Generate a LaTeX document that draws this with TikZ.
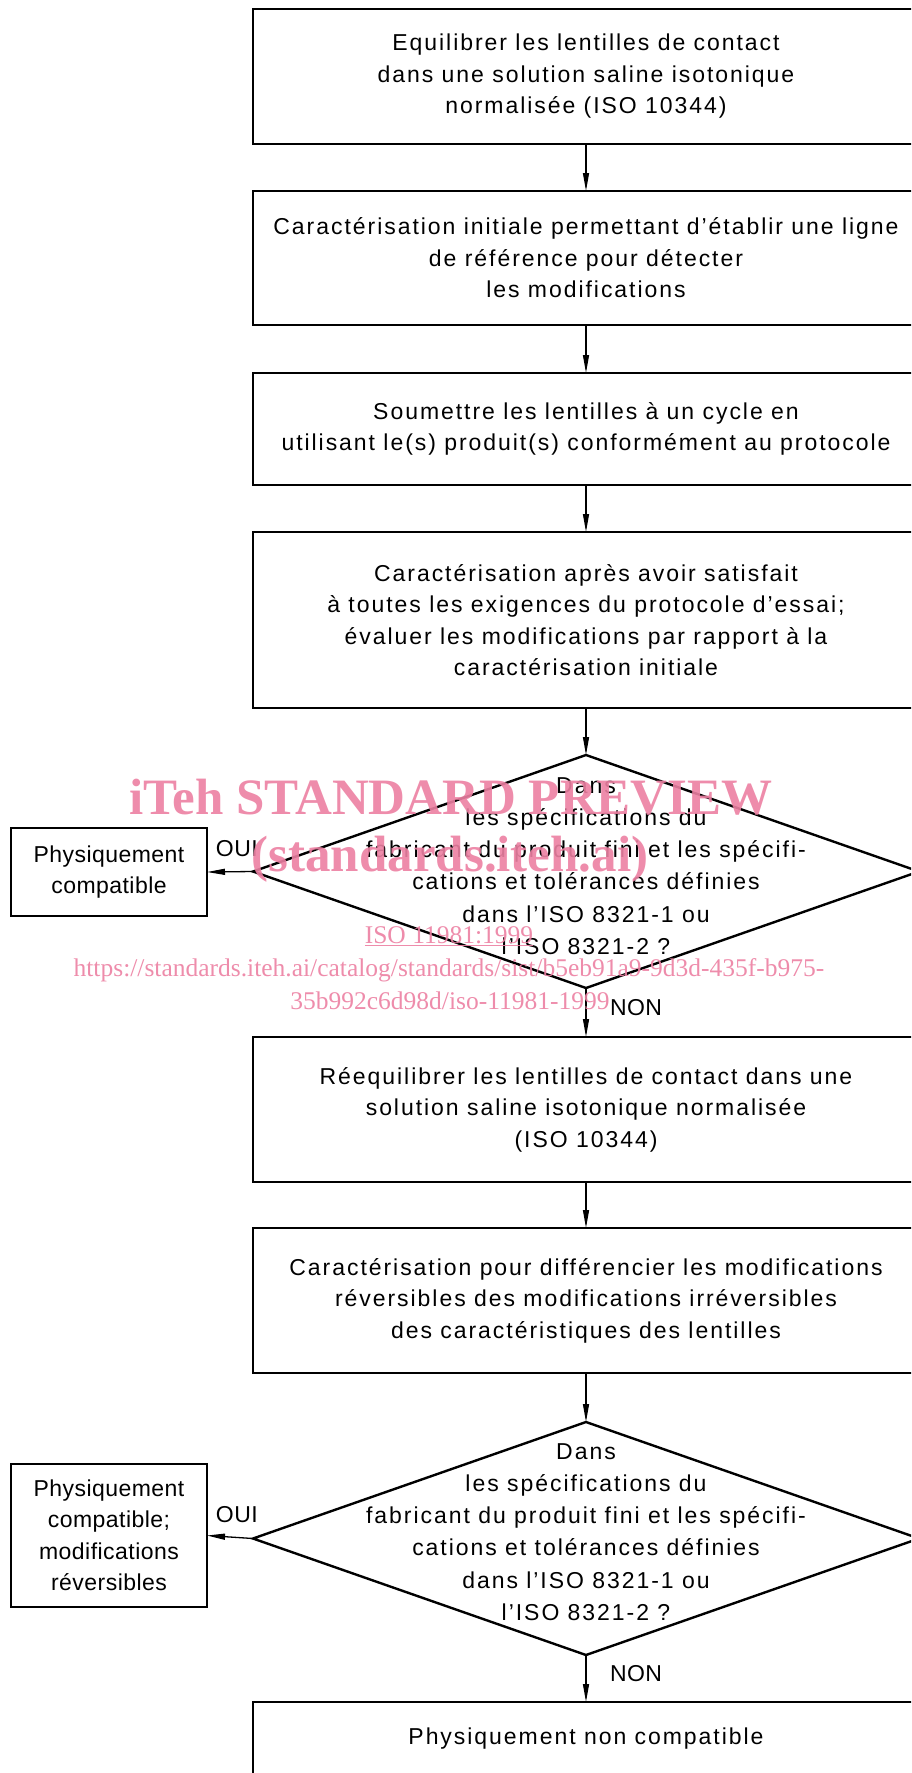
\documentclass[tikz,border=0pt]{standalone}
\usepackage{fontspec}
\setmainfont[LetterSpace=8.5]{Liberation Sans}
\newfontfamily\sidefont[LetterSpace=2]{Liberation Sans}
\newfontfamily\wmfont{Liberation Serif}
\usetikzlibrary{arrows.meta,shapes.geometric,positioning}
\definecolor{wmpink}{RGB}{236,128,162}

\begin{document}
\begin{tikzpicture}[x=1pt, y=-1pt, >={Triangle[length=18pt,width=6pt]},
    every node/.style={font=\fontsize{23}{31.5}\selectfont, inner sep=0pt, outer sep=0pt},
    stepbox/.style={draw, line width=2.4pt, minimum width=666pt, align=center},
    sidebox/.style={draw, line width=2.4pt, minimum width=196pt, align=center, font=\sidefont\fontsize{23}{31.5}\selectfont},
    decision/.style={draw, diamond, line width=2.4pt, minimum width=666pt, minimum height=233pt},
    dectext/.style={align=center, font=\fontsize{23}{32.2}\selectfont},
    answer/.style={font=\sidefont\fontsize{23}{31.5}\selectfont},
    flow/.style={->, line width=1.3pt},
    wm/.style={text=wmpink, text opacity=0.9, font=\wmfont\fontsize{25.5}{31}\selectfont}]

    \useasboundingbox (0,0) rectangle (911,1773);
    \clip (0,0) rectangle (911,1773);

    \node[stepbox, minimum height=135pt] (equil) at (586,76.5) {Equilibrer les lentilles de contact\\dans une solution saline isotonique\\normalisée (ISO 10344)};
    \node[stepbox, minimum height=134pt] (carinit) at (586,258) {Caractérisation initiale permettant d’établir une ligne\\de référence pour détecter\\les modifications};
    \node[stepbox, minimum height=112pt] (cycle) at (586,429) {Soumettre les lentilles à un cycle en\\utilisant le(s) produit(s) conformément au protocole};
    \node[stepbox, minimum height=176pt] (carapres) at (586,620) {Caractérisation après avoir satisfait\\à toutes les exigences du protocole d’essai;\\évaluer les modifications par rapport à la\\caractérisation initiale};

    \node[decision] (dec1) at (586,871.5) {};
    \node[dectext] (dectext1) at (586,866) {Dans\\les spécifications du\\fabricant du produit fini et les spécifi-\\cations et tolérances définies\\dans l’ISO 8321-1 ou\\l’ISO 8321-2 ?};
    \node[sidebox, minimum height=88pt] (compat1) at (109,872) {Physiquement\\compatible};

    \node[stepbox, minimum height=145pt] (reequil) at (586,1109.5) {Réequilibrer les lentilles de contact dans une\\solution saline isotonique normalisée\\(ISO 10344)};
    \node[stepbox, minimum height=145pt] (cardiff) at (586,1300.5) {Caractérisation pour différencier les modifications\\réversibles des modifications irréversibles\\des caractéristiques des lentilles};

    \node[decision] (dec2) at (586,1538.5) {};
    \node[dectext] (dectext2) at (586,1532) {Dans\\les spécifications du\\fabricant du produit fini et les spécifi-\\cations et tolérances définies\\dans l’ISO 8321-1 ou\\l’ISO 8321-2 ?};
    \node[sidebox, minimum height=143pt] (compat2) at (109,1535.5) {Physiquement\\compatible;\\modifications\\réversibles};

    \node[stepbox, minimum height=74pt] (noncompat) at (586,1739) {Physiquement non compatible};

    % connectors
    \draw[flow] (equil) -- (carinit);
    \draw[flow] (carinit) -- (cycle);
    \draw[flow] (cycle) -- (carapres);
    \draw[flow] (carapres) -- (dec1.north);
    \draw[flow] (dec1.west) -- node[pos=0.35, above=15pt, answer] (oui1) {OUI} (compat1.east);
    \draw[flow] (dec1.south) -- node[pos=0.4, right=24pt, answer] (non1) {NON} (reequil.north);
    \draw[flow] (reequil) -- (cardiff);
    \draw[flow] (cardiff) -- (dec2.north);
    \draw[flow] (dec2.west) -- node[pos=0.35, above=15pt, answer] (oui2) {OUI} (compat2.east);
    \draw[flow] (dec2.south) -- node[pos=0.4, right=24pt, answer] (non2) {NON} (noncompat.north);

    % watermark
    \node[wm, font=\wmfont\bfseries\fontsize{51}{55}\selectfont] (wmtitle) at (451,797) {iTeh STANDARD PREVIEW};
    \node[wm, font=\wmfont\bfseries\fontsize{51}{55}\selectfont] (wmsite) at (450,859) {(standards.iteh.ai)};
    \node[wm] (wmiso) at (449,936) {\underline{ISO 11981:1999}};
    \node[wm] (wmurl) at (449,970) {https://standards.iteh.ai/catalog/standards/sist/b5eb91a9-9d3d-435f-b975-};
    \node[wm] (wmid) at (450,1001) {35b992c6d98d/iso-11981-1999};

\end{tikzpicture}
\end{document}
